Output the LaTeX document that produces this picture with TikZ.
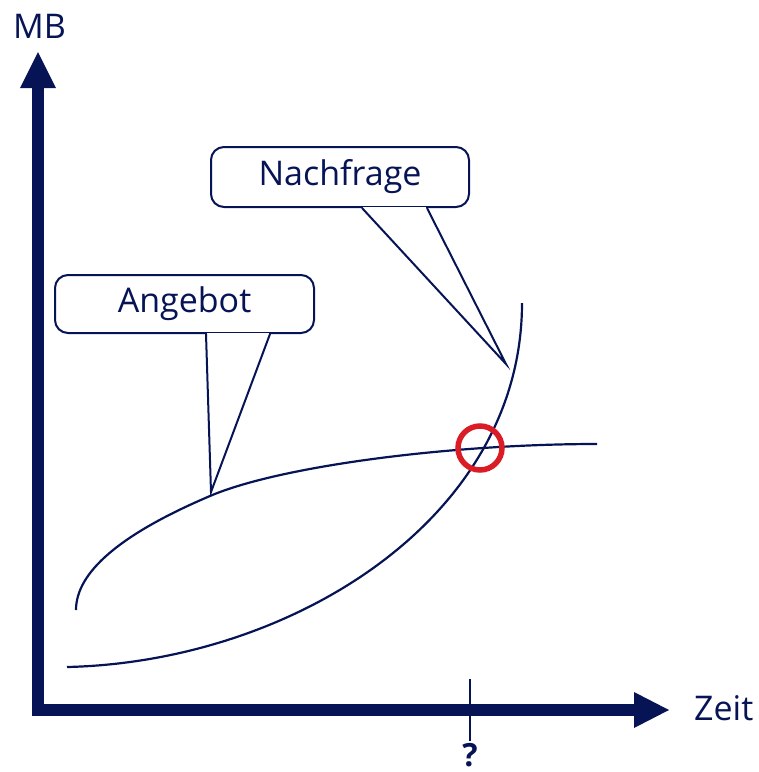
\documentclass[tikz,border=0pt]{standalone}
\usepackage{fontspec}
\setmainfont{Open Sans}
\definecolor{navy}{RGB}{6,20,86}
\definecolor{ringred}{RGB}{218,28,38}
\begin{document}
\begin{tikzpicture}[x=1pt,y=-1pt,
  lbl/.style={text=navy,font=\fontsize{34}{40}\selectfont,inner sep=0pt},
  callout/.style={draw=navy,line width=2pt,rounded corners=13pt,fill=white,inner sep=0pt},
  curve/.style={draw=navy,line width=2.2pt},
  axis/.style={draw=navy,line width=12pt,line join=miter},
  head/.style={fill=navy,draw=none}]
\useasboundingbox (0,0) rectangle (759,772);
% axes
\draw[axis] (38,88) -- (38,710) -- (634,710);
\fill[head] (20,88) -- (38,52) -- (56,88) -- cycle;
\fill[head] (634,692) -- (669,710) -- (634,728) -- cycle;
\node[lbl,anchor=base west] (mb) at (13,38) {MB};
\node[lbl,anchor=base west] (zeit) at (694,720) {Zeit};
% tick and question mark
\coordinate (t1) at (470,679);
\coordinate (t2) at (470,741);
\draw[navy,line width=2pt] (t1) -- (t2);
\node[lbl,font=\fontsize{32}{38}\selectfont\bfseries,anchor=base] (q) at (470,766) {?};
% curves
\draw[curve] (76,610) .. controls (76,572) and (120.7,534) .. (210,496) .. controls (280,466) and (450,444) .. (597,444);
\draw[curve] (67,667) .. controls (290,662) and (522,520) .. (522,303);
% red ring
\draw[ringred,line width=5.5pt] (480,448) circle (22);
% callouts
\node[callout,minimum width=258pt,minimum height=60pt] (nf) at (340,177) {};
\node[lbl] (nft) at (340,177) {Nachfrage};
\coordinate (nftip) at (506,364);
\fill[white] (nf.south -| 362,0) -- (nftip) -- (nf.south -| 427,0) -- cycle;
\draw[white,line width=3pt] ([xshift=1pt]nf.south -| 362,0) -- ([xshift=-1pt]nf.south -| 427,0);
\draw[navy,line width=2pt,line join=miter] (nf.south -| 362,0) -- (nftip) -- (nf.south -| 427,0);
\node[callout,minimum width=259pt,minimum height=58pt] (ag) at (184.5,304) {};
\node[lbl] (agt) at (184.5,304) {Angebot};
\coordinate (agtip) at (211,492);
\fill[white] (ag.south -| 206,0) -- (agtip) -- (ag.south -| 270,0) -- cycle;
\draw[white,line width=3pt] ([xshift=1pt]ag.south -| 206,0) -- ([xshift=-1pt]ag.south -| 270,0);
\draw[navy,line width=2pt,line join=miter] (ag.south -| 206,0) -- (agtip) -- (ag.south -| 270,0);
\end{tikzpicture}
\end{document}
